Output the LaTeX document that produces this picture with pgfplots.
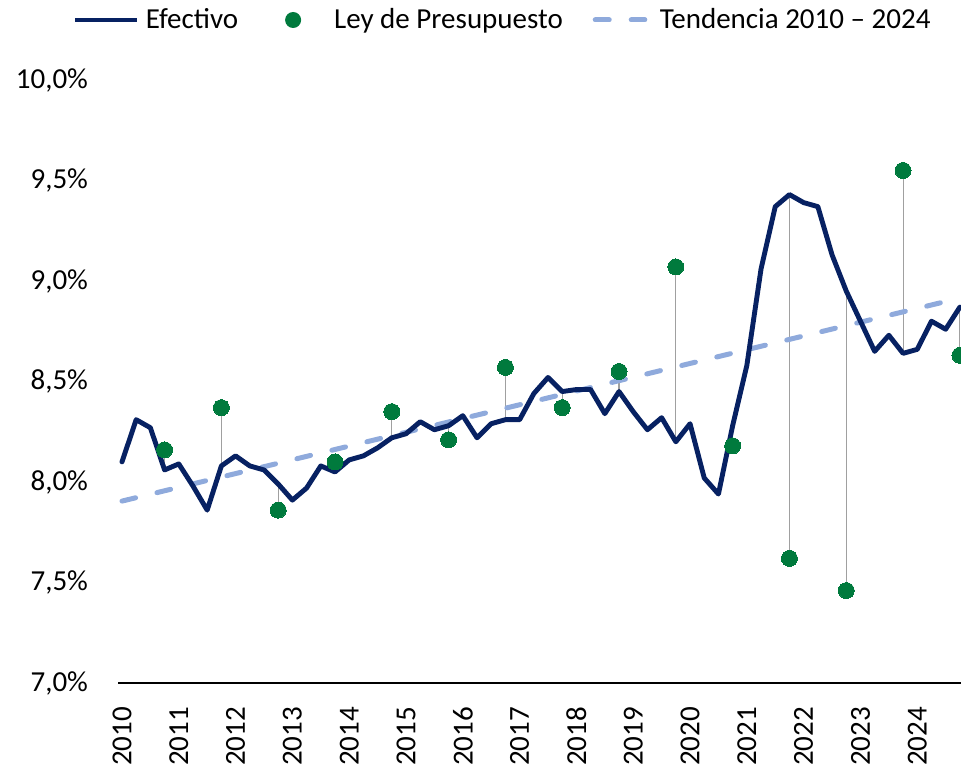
\documentclass[border=0pt]{standalone}
\usepackage{fontspec}
\setmainfont{Carlito}
\usepackage{pgfplots}
\pgfplotsset{compat=1.18}
\definecolor{navy}{HTML}{072162}
\definecolor{dotgreen}{HTML}{007A3D}
\definecolor{trendblue}{HTML}{8FAADC}
\definecolor{connector}{HTML}{A0A0A0}
\begin{document}
\begin{tikzpicture}
\useasboundingbox (-59pt,-41pt) rectangle (421.5pt,341.5pt);
\begin{axis}[
  scale only axis,
  width=421.5pt, height=301.5pt,
  xmin=-0.28, xmax=59.08,
  ymin=7, ymax=10,
  clip=false,
  separate axis lines,
  axis x line*=bottom,
  axis y line*=left,
  y axis line style={draw=none},
  x axis line style={black, line width=0.7pt, -},
  tick style={draw=none},
  xtick={0,4,8,12,16,20,24,28,32,36,40,44,48,52,56},
  xticklabels={2010,2011,2012,2013,2014,2015,2016,2017,2018,2019,2020,2021,2022,2023,2024},
  ytick={7,7.5,8,8.5,9,9.5,10},
  yticklabel={\pgfmathprintnumber[fixed,fixed zerofill,precision=1,use comma]{\tick}\%},
  /pgf/number format/assume math mode=true,
  every tick label/.append style={font=\fontsize{14.5}{17}\selectfont, text=black},
  xticklabel style={rotate=90, anchor=east},
  xticklabel shift=8.5pt,
  yticklabel shift=11.5pt,
  legend columns=3,
  legend style={
    at={(axis description cs:-0.054,1.0995)}, anchor=west,
    draw=none, fill=none, inner sep=0pt,
    font=\fontsize{14.5}{17}\selectfont,
    nodes={inner xsep=3pt, inner ysep=0pt},
    /tikz/every even column/.append style={column sep=0pt},
  },
  legend cell align=left,
]
% connectors between Efectivo and Ley de Presupuesto (Q4 of each year)
\addplot[connector, line width=0.55pt, forget plot, unbounded coords=jump] coordinates {
(3,8.06) (3,8.16) (3,nan)
(7,8.08) (7,8.37) (7,nan)
(11,7.99) (11,7.86) (11,nan)
(15,8.05) (15,8.10) (15,nan)
(19,8.22) (19,8.35) (19,nan)
(23,8.28) (23,8.21) (23,nan)
(27,8.31) (27,8.57) (27,nan)
(31,8.45) (31,8.37) (31,nan)
(35,8.45) (35,8.55) (35,nan)
(39,8.20) (39,9.07) (39,nan)
(43,8.28) (43,8.18) (43,nan)
(47,9.43) (47,7.62) (47,nan)
(51,8.95) (51,7.46) (51,nan)
(55,8.64) (55,9.55) (55,nan)
(59,8.87) (59,8.63)
};
% trend 2010-2024
\addplot[trendblue, line width=2.5pt, line cap=round, dash pattern=on 7pt off 11pt, forget plot] coordinates {
(0,7.905) (59,8.915)
};
% Efectivo
\addplot[navy, line width=2.45pt, line join=round, line cap=round, forget plot] coordinates {
(0,8.10) (1,8.31) (2,8.27) (3,8.06)
(4,8.09) (5,7.98) (6,7.86) (7,8.08)
(8,8.13) (9,8.08) (10,8.06) (11,7.99)
(12,7.91) (13,7.97) (14,8.08) (15,8.05)
(16,8.11) (17,8.13) (18,8.17) (19,8.22)
(20,8.24) (21,8.30) (22,8.26) (23,8.28)
(24,8.33) (25,8.22) (26,8.29) (27,8.31)
(28,8.31) (29,8.44) (30,8.52) (31,8.45)
(32,8.46) (33,8.46) (34,8.34) (35,8.45)
(36,8.35) (37,8.26) (38,8.32) (39,8.20)
(40,8.29) (41,8.02) (42,7.94) (43,8.28)
(44,8.58) (45,9.06) (46,9.37) (47,9.43)
(48,9.39) (49,9.37) (50,9.13) (51,8.95)
(52,8.80) (53,8.65) (54,8.73) (55,8.64)
(56,8.66) (57,8.80) (58,8.76) (59,8.87)
};
% Ley de Presupuesto
\addplot[dotgreen, only marks, mark=*, mark size=4pt, mark options={draw=dotgreen, fill=dotgreen, line width=0pt}, forget plot] coordinates {
(3,8.16) (7,8.37) (11,7.86) (15,8.10) (19,8.35) (23,8.21) (27,8.57)
(31,8.37) (35,8.55) (39,9.07) (43,8.18) (47,7.62) (51,7.46) (55,9.55) (59,8.63)
};
% legend entries
\addlegendimage{legend image code/.code={\draw[navy, line width=2.45pt] (0pt,0pt) -- (31pt,0pt);}}
\addlegendentry{Efectivo}
\addlegendimage{legend image code/.code={\path[draw=none] (-16.5pt,0pt) -- (25.5pt,0pt); \fill[dotgreen, draw=none] (8pt,0pt) circle (4pt);}}
\addlegendentry{Ley de Presupuesto}
\addlegendimage{legend image code/.code={\path[draw=none] (-12pt,0pt) -- (30.5pt,0pt); \draw[trendblue, line width=2.5pt, line cap=round, dash pattern=on 7pt off 11pt] (1.2pt,0pt) -- (26pt,0pt);}}
\addlegendentry{Tendencia 2010 – 2024}
\end{axis}
\end{tikzpicture}
\end{document}
